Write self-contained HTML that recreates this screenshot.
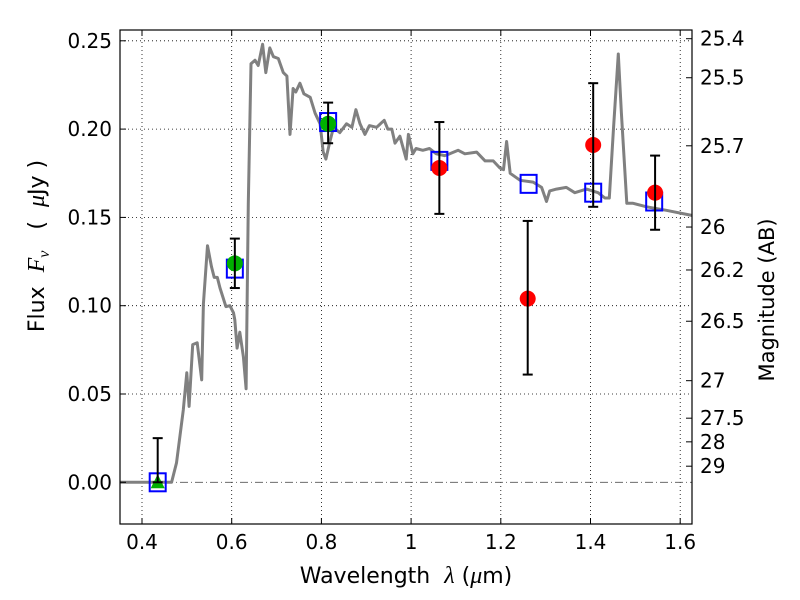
<!DOCTYPE html>
<html><head><meta charset="utf-8"><style>
html,body{margin:0;padding:0;background:#fff;}
svg{display:block;font-family:"DejaVu Sans","Liberation Sans",sans-serif;}
.pre{white-space:pre;}
</style></head><body>
<svg id="chart" width="800" height="600" viewBox="0 0 800 600">
<rect x="0" y="0" width="800" height="600" fill="#fff"/>
<g id="grid"></g>
<g id="spec"></g>
<g id="marks"></g>
<g id="axes"></g>
<text class="pre" x="406" y="583" font-size="22" text-anchor="middle">Wavelength  <tspan font-family="Liberation Serif,serif" font-style="italic" font-size="24">λ</tspan> (<tspan font-family="Liberation Serif,serif" font-style="italic" font-size="24">μ</tspan>m)</text>
<text class="pre" transform="translate(44,246) rotate(-90)" font-size="22" text-anchor="middle">Flux  <tspan font-family="Liberation Serif,serif" font-style="italic" font-size="24">F<tspan font-size="16" dy="5">ν</tspan></tspan><tspan dy="-5">   (  </tspan><tspan font-family="Liberation Serif,serif" font-style="italic" font-size="24">μ</tspan>Jy )</text>
<text transform="translate(774,300) rotate(-90)" font-size="21" text-anchor="middle">Magnitude (AB)</text>
</svg>
<script>
const xTicks=[0.4,0.6,0.8,1.0,1.2,1.4,1.6];
const xTickLabels=["0.4","0.6","0.8","1","1.2","1.4","1.6"];
const yTicks=[0,0.05,0.10,0.15,0.20,0.25];
const yTickLabels=["0.00","0.05","0.10","0.15","0.20","0.25"];
const magTicks=[25.4,25.5,25.7,26,26.2,26.5,27,27.5,28,29];
const magTickLabels=["25.4","25.5","25.7","26","26.2","26.5","27","27.5","28","29"];
const specWave=[0.351,0.466,0.477,0.492,0.500,0.505,0.513,0.523,0.533,0.537,0.546,0.555,0.561,0.568,0.574,0.587,0.596,0.604,0.607,0.612,0.618,0.626,0.632,0.637,0.643,0.652,0.659,0.669,0.676,0.685,0.693,0.704,0.715,0.723,0.730,0.737,0.743,0.752,0.761,0.775,0.786,0.797,0.804,0.810,0.818,0.827,0.841,0.856,0.868,0.877,0.886,0.897,0.907,0.923,0.940,0.948,0.957,0.964,0.975,0.989,0.994,1.004,1.011,1.026,1.041,1.056,1.075,1.086,1.105,1.120,1.146,1.165,1.183,1.198,1.206,1.213,1.221,1.243,1.272,1.291,1.302,1.309,1.324,1.346,1.365,1.391,1.417,1.432,1.442,1.451,1.462,1.469,1.481,1.495,1.525,1.569,1.628];
const specFlux=[0,0,0.011,0.041,0.062,0.043,0.078,0.079,0.058,0.101,0.134,0.122,0.116,0.116,0.110,0.0995,0.100,0.096,0.092,0.076,0.085,0.071,0.053,0.158,0.237,0.239,0.236,0.248,0.232,0.246,0.241,0.240,0.232,0.230,0.197,0.223,0.221,0.226,0.220,0.218,0.209,0.203,0.187,0.183,0.192,0.201,0.198,0.203,0.201,0.211,0.203,0.197,0.202,0.201,0.205,0.200,0.200,0.192,0.196,0.183,0.197,0.186,0.189,0.188,0.189,0.186,0.185,0.186,0.188,0.186,0.187,0.182,0.182,0.178,0.177,0.193,0.175,0.171,0.170,0.167,0.159,0.165,0.166,0.167,0.164,0.166,0.164,0.161,0.161,0.1995,0.2425,0.209,0.158,0.158,0.156,0.154,0.151];
const modelWave=[0.435,0.607,0.815,1.063,1.262,1.406,1.542];
const modelFlux=[0.0,0.121,0.204,0.182,0.169,0.164,0.159];
const obsWave=[0.435,0.607,0.815,1.063,1.26,1.406,1.544];
const obsFlux=[0.0,0.124,0.203,0.178,0.104,0.191,0.164];
const obsLo=[0.0,0.110,0.192,0.152,0.061,0.156,0.143];
const obsHi=[0.025,0.138,0.215,0.204,0.148,0.226,0.185];
const obsKind=["tri","green","green","red","red","red","red"];

const L=120,R=692,T=30,B=524;
const x=v=>142+(v-0.4)*448.5;
const y=v=>482.3-v*1766;
const magToFlux=m=>Math.pow(10,(23.9-m)/2.5);
const NS="http://www.w3.org/2000/svg";
function mk(tag,attrs,parent){const e=document.createElementNS(NS,tag);for(const k in attrs)e.setAttribute(k,attrs[k]);parent.appendChild(e);return e;}
const grid=document.getElementById('grid'),axes=document.getElementById('axes'),spec=document.getElementById('spec'),marks=document.getElementById('marks');

xTicks.forEach((t,i)=>{
 const px=x(t);
 const g=mk('line',{x1:px,x2:px,y1:T,y2:B,stroke:'#000','stroke-width':0.8,'stroke-dasharray':'1,3'},grid);
 
 
 mk('line',{x1:px,x2:px,y1:B,y2:B-6,stroke:'#000','stroke-width':1},axes);
 mk('line',{x1:px,x2:px,y1:T,y2:T+6,stroke:'#000','stroke-width':1},axes);
 const tx=mk('text',{x:px,y:B+25,'font-size':20,'text-anchor':'middle'},axes);
 tx.textContent=xTickLabels[i];
 
 
});
yTicks.forEach((t,i)=>{
 const py=y(t);
 if(t!==0){const g=mk('line',{x1:L,x2:R,y1:py,y2:py,stroke:'#000','stroke-width':0.8,'stroke-dasharray':'1,3'},grid);
 
 }
 mk('line',{x1:L,x2:L+6,y1:py,y2:py,stroke:'#000','stroke-width':1},axes);
 const tx=mk('text',{x:L-8,y:py+7,'font-size':20,'text-anchor':'end'},axes);
 tx.textContent=yTickLabels[i];
 
 
});
const zl=mk('line',{x1:L,x2:R,y1:y(0),y2:y(0),stroke:'#555','stroke-width':0.9,'stroke-dasharray':'8,3,1,3'},grid);


magTicks.forEach((m,i)=>{
 const py=y(magToFlux(m));
 mk('line',{x1:R,x2:R-6,y1:py,y2:py,stroke:'#000','stroke-width':1},axes);
 const tx=mk('text',{x:R+8,y:py+7,'font-size':20,'text-anchor':'start'},axes);
 tx.textContent=magTickLabels[i];
 
 
});
const frame=mk('rect',{x:L,y:T,width:R-L,height:B-T,fill:'none',stroke:'#000','stroke-width':1.2},axes);



const clip=mk('clipPath',{id:'pc'},document.getElementById('chart'));
mk('rect',{x:L,y:T,width:R-L,height:B-T},clip);
const pl=mk('polyline',{points:specWave.map((w,i)=>x(w).toFixed(1)+','+y(specFlux[i]).toFixed(1)).join(' '),fill:'none',stroke:'#808080','stroke-width':3,'stroke-linejoin':'round','clip-path':'url(#pc)'},spec);



modelWave.forEach((w,i)=>{
 const s=mk('rect',{x:x(w)-8,y:y(modelFlux[i])-9,width:16,height:18,fill:'none',stroke:'#0000ff','stroke-width':2},marks);
 
 
});
obsWave.forEach((w,i)=>{
 const px=x(w),c=obsKind[i]==='red'?'#ff0000':'#00b000';
 if(obsKind[i]==='tri'){
  const py=y(obsFlux[i]);
  const t=mk('polygon',{points:`${px},${py-8} ${px-7},${py+6} ${px+7},${py+6}`,fill:'#00b000'},marks);
  
  
 } else {
  const ci=mk('circle',{cx:px,cy:y(obsFlux[i]),r:8,fill:c},marks);
  
  
 }
 const e=mk('line',{x1:px,x2:px,y1:y(obsLo[i]),y2:y(obsHi[i]),stroke:'#000','stroke-width':2},marks);
 
 
 mk('line',{x1:px-5,x2:px+5,y1:y(obsHi[i]),y2:y(obsHi[i]),stroke:'#000','stroke-width':2},marks);
 mk('line',{x1:px-5,x2:px+5,y1:y(obsLo[i]),y2:y(obsLo[i]),stroke:'#000','stroke-width':2},marks);
});
</script>
</body></html>
